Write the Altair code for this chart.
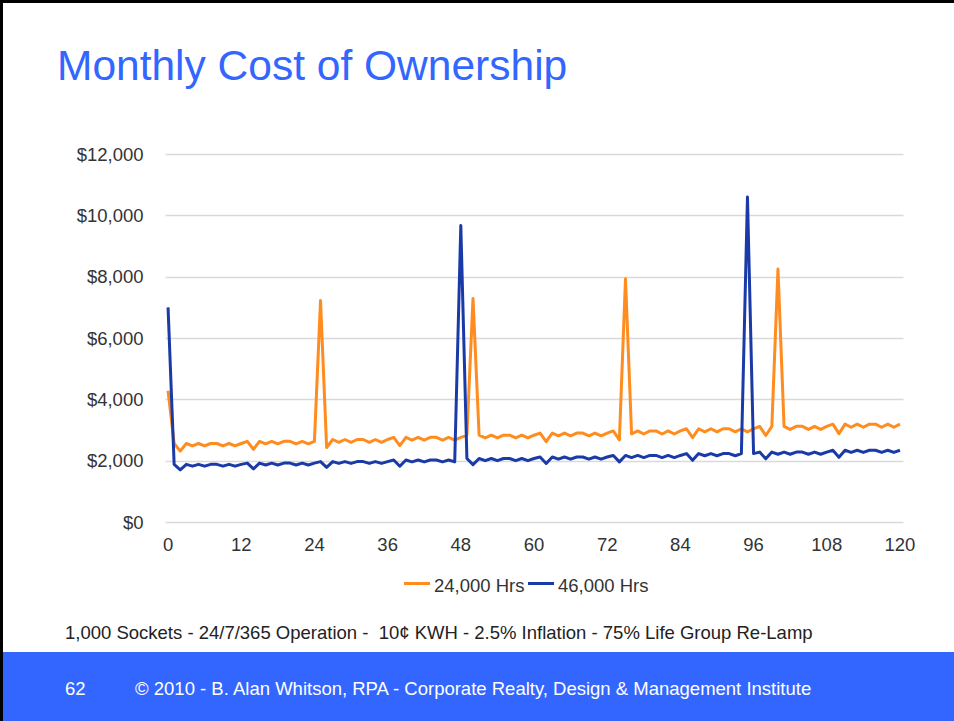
import altair as alt
import pandas as pd

# Month index (0 = installation month, then 120 months of operation)
months = list(range(121))

# Monthly cost, 24,000-hour lamps (re-lamp spikes at months 25, 50, 75, 100)
cost_24000 = [
    4280,
    2560, 2310, 2560, 2480, 2560, 2480, 2560, 2560, 2480, 2560, 2480, 2560,
    2630, 2370, 2630, 2550, 2630, 2550, 2630, 2630, 2550, 2630, 2550, 2630,
    7220, 2430, 2690, 2600, 2690, 2600, 2690, 2690, 2600, 2690, 2600, 2690,
    2760, 2490, 2760, 2670, 2760, 2670, 2760, 2760, 2670, 2760, 2670, 2760,
    2830, 7290, 2830, 2740, 2830, 2740, 2830, 2830, 2740, 2830, 2740, 2830,
    2900, 2620, 2900, 2810, 2900, 2810, 2900, 2900, 2810, 2900, 2810, 2900,
    2970, 2680, 7930, 2870, 2970, 2870, 2970, 2970, 2870, 2970, 2870, 2970,
    3040, 2750, 3040, 2940, 3040, 2940, 3040, 3040, 2940, 3040, 2940, 3040,
    3120, 2820, 3120, 8250, 3120, 3020, 3120, 3120, 3020, 3120, 3020, 3120,
    3190, 2880, 3190, 3090, 3190, 3090, 3190, 3190, 3090, 3190, 3090, 3190,
]

# Monthly cost, 46,000-hour lamps (re-lamp spikes at months 48 and 95)
cost_46000 = [
    7000,
    1880, 1700, 1880, 1820, 1880, 1820, 1880, 1880, 1820, 1880, 1820, 1880,
    1920, 1730, 1920, 1860, 1920, 1860, 1920, 1920, 1860, 1920, 1860, 1920,
    1970, 1780, 1970, 1910, 1970, 1910, 1970, 1970, 1910, 1970, 1910, 1970,
    2020, 1820, 2020, 1960, 2020, 1960, 2020, 2020, 1960, 2020, 1960, 9670,
    2070, 1870, 2070, 2000, 2070, 2000, 2070, 2070, 2000, 2070, 2000, 2070,
    2120, 1910, 2120, 2050, 2120, 2050, 2120, 2120, 2050, 2120, 2050, 2120,
    2170, 1960, 2170, 2100, 2170, 2100, 2170, 2170, 2100, 2170, 2100, 2170,
    2230, 2010, 2230, 2160, 2230, 2160, 2230, 2230, 2160, 2230, 10600, 2230,
    2280, 2060, 2280, 2210, 2280, 2210, 2280, 2280, 2210, 2280, 2210, 2280,
    2340, 2110, 2340, 2270, 2340, 2270, 2340, 2340, 2270, 2340, 2270, 2340,
]

series_names = ["24,000 Hrs", "46,000 Hrs"]
series_colors = ["#FF8C1F", "#1A3AA8"]

x_ticks = [0, 12, 24, 36, 48, 60, 72, 84, 96, 108, 120]
y_ticks = [0, 2000, 4000, 6000, 8000, 10000, 12000]

slide_title = "Monthly Cost of Ownership"
footnote = "1,000 Sockets - 24/7/365 Operation - \u00a010\u00a2 KWH - 2.5% Inflation - 75% Life Group Re-Lamp"
page_number = "62"
copyright_line = "\u00a9 2010 - B. Alan Whitson, RPA - Corporate Realty, Design & Management Institute"

df = pd.DataFrame({
    "month": months * 2,
    "cost": cost_24000 + cost_46000,
    "series": [series_names[0]] * len(months) + [series_names[1]] * len(months),
})
ticks_df = pd.DataFrame({"tick": x_ticks})

FONT = "Liberation Sans"
BLUE = "#3366FF"
TEXT = "#333333"

# slide geometry (pixels)
SW, SH = 954, 721
L, T = 165, 154          # plot origin
W, H = 738, 368          # plot size

dummy = pd.DataFrame({"k": [0]})

x_scale = alt.Scale(domain=[0, 121], nice=False, zero=False)
y_scale = alt.Scale(domain=[0, 12000], nice=False)
color_scale = alt.Scale(domain=series_names, range=series_colors)

# each month is drawn at the centre of its category slot; ticks sit on slot edges
lines = (
    alt.Chart(df)
    .transform_calculate(pos="datum.month + 0.5")
    .mark_line(strokeWidth=3, strokeJoin="round")
    .encode(
        x=alt.X(
            "pos:Q",
            scale=x_scale,
            title=None,
            axis=alt.Axis(
                values=x_ticks,
                labels=False,
                grid=False,
                domain=True,
                domainColor="#8c8c8c",
                domainWidth=1.5,
                ticks=True,
                tickColor="#8c8c8c",
                tickWidth=1.5,
                tickSize=5,
            ),
        ),
        y=alt.Y(
            "cost:Q",
            scale=y_scale,
            title=None,
            axis=alt.Axis(
                values=y_ticks,
                format="$,.0f",
                grid=True,
                gridColor="#d9d9d9",
                gridWidth=1.7,
                domain=False,
                ticks=False,
                labelFont=FONT,
                labelFontSize=18.5,
                labelColor=TEXT,
                labelPadding=22,
            ),
        ),
        color=alt.Color("series:N", scale=color_scale, legend=None),
        order=alt.Order("month:Q"),
    )
)

# category labels, centred under their slot
x_labels = (
    alt.Chart(ticks_df)
    .transform_calculate(pos="datum.tick + 0.5")
    .mark_text(baseline="top", align="center", font=FONT, fontSize=18.5, color=TEXT)
    .encode(
        x=alt.X("pos:Q", scale=x_scale, axis=None),
        y=alt.value(H + 14),
        text=alt.Text("tick:Q"),
    )
)

base = alt.Chart(dummy)

footer_bar = base.mark_rect(color=BLUE).encode(
    x=alt.value(-L), x2=alt.value(SW - L),
    y=alt.value(652 - T), y2=alt.value(SH - T),
)

border_left = base.mark_rule(color="black", strokeWidth=3).encode(
    x=alt.value(1.5 - L), y=alt.value(-T), y2=alt.value(SH - T),
)
border_top = base.mark_rule(color="black", strokeWidth=3).encode(
    x=alt.value(-L), x2=alt.value(SW - L), y=alt.value(1.5 - T),
)

title = base.mark_text(
    align="left", baseline="alphabetic", font=FONT, fontSize=42.5, color=BLUE
).encode(x=alt.value(57 - L), y=alt.value(80 - T), text=alt.value(slide_title))

# legend
legend_parts = []
legend_x = [404, 528]
for name, colr, lx in zip(series_names, series_colors, legend_x):
    legend_parts.append(
        base.mark_rule(color=colr, strokeWidth=3).encode(
            x=alt.value(lx - L), x2=alt.value(lx + 26 - L), y=alt.value(583.5 - T)
        )
    )
    legend_parts.append(
        base.mark_text(
            align="left", baseline="alphabetic", font=FONT, fontSize=18.5, color=TEXT
        ).encode(x=alt.value(lx + 30 - L), y=alt.value(592 - T), text=alt.value(name))
    )

note = base.mark_text(
    align="left", baseline="alphabetic", font=FONT, fontSize=18.5, color="#222222"
).encode(x=alt.value(65 - L), y=alt.value(639 - T), text=alt.value(footnote))

page_no = base.mark_text(
    align="left", baseline="alphabetic", font=FONT, fontSize=18.5, color="white"
).encode(x=alt.value(65 - L), y=alt.value(695 - T), text=alt.value(page_number))

copyright_text = base.mark_text(
    align="left", baseline="alphabetic", font=FONT, fontSize=18.5, color="white"
).encode(x=alt.value(135 - L), y=alt.value(695 - T), text=alt.value(copyright_line))

chart = (
    alt.layer(
        footer_bar, lines, x_labels, title, *legend_parts, note, page_no, copyright_text,
        border_left, border_top,
    )
    .properties(
        width=W,
        height=H,
        padding={"left": L, "top": T, "right": SW - L - W, "bottom": SH - T - H},
        autosize=alt.AutoSizeParams(type="none"),
        background="white",
    )
    .configure_view(stroke=None)
)

chart.save("out.html", embed_options={"renderer": "svg", "actions": False})
